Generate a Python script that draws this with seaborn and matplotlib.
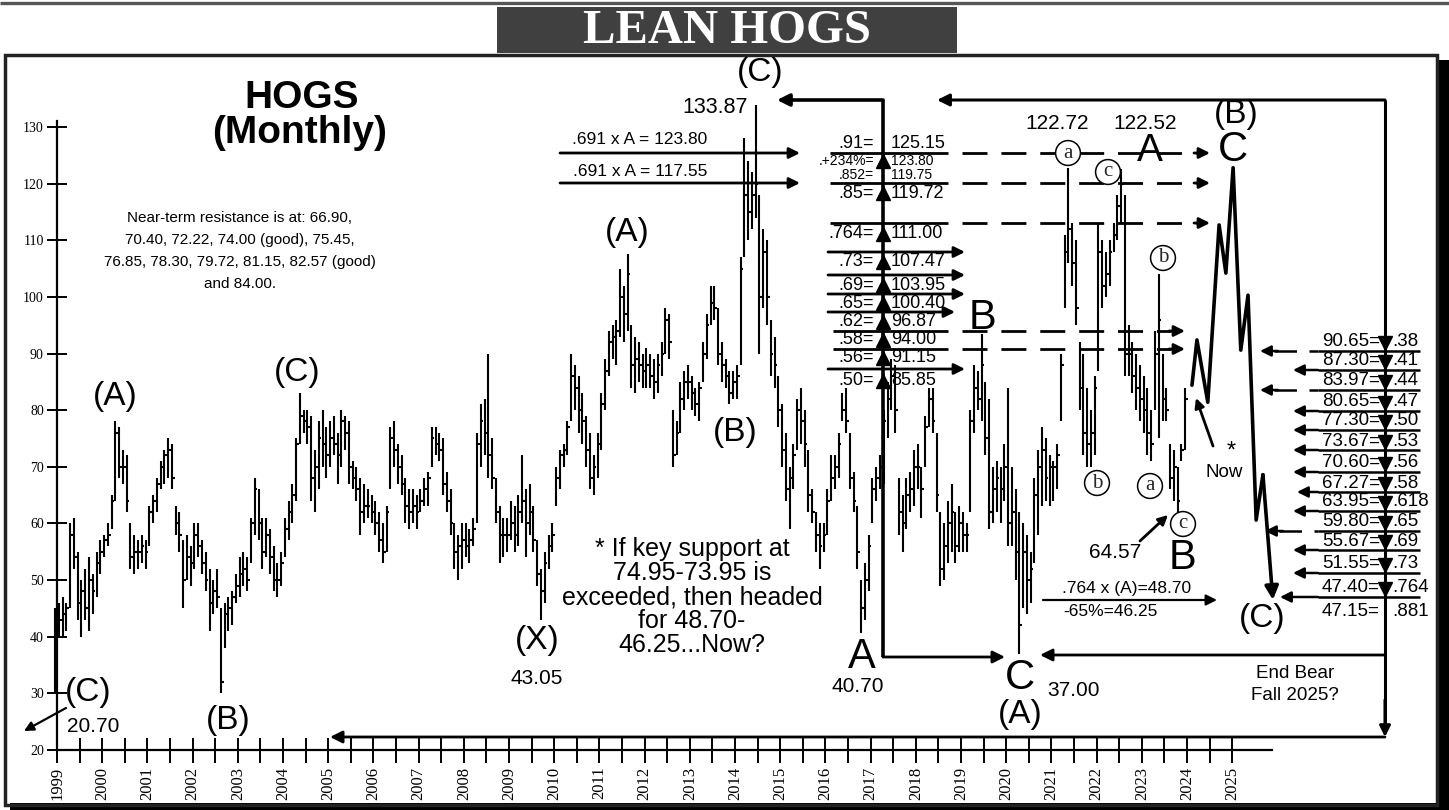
import numpy as np
import pandas as pd
import matplotlib
matplotlib.use("Agg")
import matplotlib.pyplot as plt
import seaborn as sns
from matplotlib.patches import Rectangle

# ---------------- data: monthly bars Dec 1998 .. Dec 2023 ----------------
first_month = "1998-12"
lows = [30,
    40, 40, 41, 45, 52, 43, 40, 43, 41, 44, 47, 51,      # 1999
    54, 56, 59, 64, 68, 67, 62, 52, 51, 52, 53, 52,      # 2000
    56, 60, 62, 66, 67, 68, 66, 58, 55, 45, 50, 49,      # 2001
    52, 54, 51, 48, 41, 44, 45, 30, 38, 41, 42, 46,      # 2002
    47, 49, 48, 53, 58, 57, 52, 54, 51, 48, 47, 49,      # 2003
    54, 57, 60, 64, 74, 76, 74, 64, 62, 66, 70, 68,      # 2004
    70, 72, 67, 70, 73, 67, 66, 64, 58, 60, 61, 60,      # 2005
    58, 55, 53, 55, 66, 70, 67, 65, 60, 59, 60, 59,      # 2006
    62, 63, 63, 70, 72, 71, 65, 62, 58, 52, 50, 52,      # 2007
    54, 53, 56, 60, 70, 72, 68, 66, 60, 53, 54, 55,      # 2008
    57, 55, 56, 60, 54, 58, 55, 49, 43, 46, 52, 55,      # 2009
    63, 66, 70, 72, 78, 80, 76, 74, 70, 66, 65, 68,      # 2010
    73, 80, 86, 89, 88, 93, 92, 94, 84, 83, 85, 84,      # 2011
    84, 84, 82, 83, 86, 90, 89, 70, 72, 76, 80, 82,      # 2012
    80, 79, 78, 85, 89, 95, 96, 88, 85, 84, 81, 82,      # 2013
    82, 88, 107, 110, 112, 114, 90, 98, 95, 86, 84, 77,  # 2014
    70, 64, 59, 66, 73, 74, 70, 62, 60, 55, 52, 55,      # 2015
    58, 64, 66, 68, 78, 76, 66, 62, 52, 40.7, 43, 48,    # 2016
    60, 64, 66, 67, 75, 80, 76, 58, 55, 59, 62, 63,      # 2017
    66, 61, 70, 77, 76, 62, 49, 50, 53, 55, 53, 55,      # 2018
    55, 55, 62, 76, 80, 78, 72, 59, 60, 62, 60, 64,      # 2019
    56, 56, 50, 37, 45, 44, 46, 53, 58, 63, 64, 63,      # 2020
    64, 66, 78, 98, 106, 102, 95, 80, 72, 70, 70, 72,    # 2021
    87, 98, 100, 102, 108, 110, 113, 86, 86, 83, 80, 78, # 2022
    76, 72, 71, 80, 75, 78, 78, 66, 64, 62, 71, 73]      # 2023
highs = [45,
    46, 47, 46, 60, 61, 55, 50, 52, 54, 51, 55, 57,
    58, 60, 65, 78, 77, 73, 72, 60, 58, 57, 58, 57,
    63, 65, 68, 71, 73, 75, 74, 63, 62, 57, 58, 56,
    60, 60, 57, 55, 52, 50, 52, 45, 46, 47, 48, 51,
    54, 55, 54, 61, 68, 66, 61, 61, 59, 56, 53, 55,
    61, 64, 67, 75, 83, 80, 80, 79, 73, 78, 80, 77,
    78, 79, 76, 80, 79, 78, 71, 70, 68, 67, 66, 65,
    64, 62, 60, 63, 77, 78, 74, 72, 68, 66, 66, 65,
    66, 68, 69, 77, 77, 76, 75, 69, 66, 60, 58, 60,
    60, 59, 61, 76, 81, 82, 90, 75, 68, 63, 61, 61,
    64, 63, 65, 72, 66, 67, 63, 57, 52, 55, 58, 60,
    70, 73, 74, 78, 90, 88, 86, 83, 79, 76, 72, 76,
    83, 89, 94, 95, 96, 105, 102, 107.5, 95, 93, 92, 90,
    91, 90, 89, 90, 92, 98, 97, 80, 78, 85, 87, 88,
    86, 84, 85, 92, 97, 102, 102, 98, 92, 89, 87, 87,
    88, 107, 128, 124, 122, 133.87, 118, 112, 110, 96, 93, 86,
    81, 76, 70, 74, 82, 84, 80, 73, 66, 62, 60, 60,
    66, 72, 72, 76, 83, 84, 76, 69, 63, 50, 53, 58,
    68, 70, 72, 80, 85, 89, 88, 68, 65, 68, 69, 73,
    74, 70, 79, 84, 84, 76, 62, 60, 64, 67, 62, 63,
    62, 60, 80, 88, 87, 93.5, 85, 82, 70, 71, 70, 74,
    84, 70, 66, 62, 60, 58, 55, 68, 73, 77, 75, 72,
    71, 74, 90, 111, 122.72, 113, 110, 92, 90, 84, 80, 86,
    113, 110, 108, 110, 113, 118, 122.52, 118, 95, 92, 90, 88,
    86, 84, 80, 94, 104, 90, 84, 74, 73, 70, 74, 84]
closes = [42,
    43, 44, 45, 58, 54, 46, 48, 45, 50, 48, 53, 55,
    57, 58, 64, 76, 70, 70, 64, 54, 55, 55, 56, 55,
    62, 64, 67, 70, 72, 73, 68, 60, 58, 50, 54, 53,
    58, 56, 53, 50, 46, 48, 47, 32, 44, 45, 47, 49,
    51, 52, 50, 60, 66, 60, 55, 58, 54, 50, 50, 53,
    59, 62, 65, 74, 79, 78, 77, 68, 70, 75, 74, 72,
    75, 74, 72, 78, 76, 70, 68, 66, 62, 63, 63, 62,
    60, 57, 55, 62, 75, 73, 70, 67, 63, 62, 63, 62,
    64, 66, 68, 75, 74, 73, 67, 64, 60, 55, 56, 57,
    56, 57, 59, 74, 78, 76, 72, 68, 62, 58, 58, 58,
    60, 58, 62, 64, 60, 62, 57, 51, 48, 53, 56, 58,
    68, 72, 73, 77, 86, 84, 80, 78, 73, 68, 70, 74,
    81, 87, 92, 93, 94, 100, 97, 104, 88, 89, 88, 87,
    88, 86, 85, 88, 90, 96, 92, 72, 76, 82, 85, 85,
    83, 81, 84, 90, 95, 99, 98, 90, 88, 86, 83, 85,
    86, 105, 118, 115, 118, 120, 100, 108, 100, 90, 88, 80,
    73, 66, 68, 72, 80, 78, 74, 65, 62, 58, 56, 58,
    64, 68, 70, 74, 80, 78, 68, 64, 55, 45, 50, 56,
    66, 68, 70, 78, 82, 86, 80, 62, 60, 65, 66, 70,
    70, 66, 77, 82, 78, 65, 52, 56, 60, 62, 56, 60,
    58, 58, 78, 84, 82, 88, 75, 62, 66, 68, 66, 70,
    60, 62, 55, 42, 55, 50, 52, 65, 70, 73, 68, 70,
    70, 72, 88, 108, 112, 106, 98, 84, 76, 74, 76, 84,
    108, 102, 104, 108, 111, 116, 120, 90, 90, 86, 84, 82,
    80, 76, 74, 90, 96, 82, 80, 68, 70, 64, 73, 82]

# projected path (B)-C-(C)
proj_year = [2024.11, 2024.22, 2024.46, 2024.71, 2024.86, 2025.02,
             2025.19, 2025.35, 2025.53, 2025.68, 2025.90]
proj_price = [84.4, 92.4, 81.4, 112.7, 104.2, 122.8, 90.6, 100.3, 60.6, 68.6, 46.5]

# Fibonacci ladders
fib_ratio = [".91=", ".+234%=", ".852=", ".85=", ".764=", ".73=", ".69=", ".65=",
             ".62=", ".58=", ".56=", ".50="]
fib_value = ["125.15", "123.80", "119.75", "119.72", "111.00", "107.47", "103.95",
             "100.40", "96.87", "94.00", "91.15", "85.85"]
ret_value = ["90.65", "87.30", "83.97", "80.65", "77.30", "73.67", "70.60",
             "67.27", "63.95", "59.80", "55.67", "51.55", "47.40", "47.15"]
ret_ratio = [".38", ".41", ".44", ".47", ".50", ".53", ".56", ".58", ".618",
             ".65", ".69", ".73", ".764", ".881"]
resist_lines = ["Near-term resistance is at: 66.90,",
                "70.40, 72.22, 74.00 (good), 75.45,",
                "76.85, 78.30, 79.72, 81.15, 82.57 (good)",
                "and 84.00."]
note_lines = ["* If key support at", "74.95-73.95 is", "exceeded, then headed",
              "for 48.70-", "46.25...Now?"]
years = list(range(1999, 2026))
price_ticks = list(range(20, 131, 10))

# ---------------- figure ----------------
sns.set_theme(style="ticks")
plt.rcParams["font.family"] = ["Liberation Sans", "DejaVu Sans"]

W, H = 1449, 810
fig = plt.figure(figsize=(W / 100, H / 100), dpi=100)
ax = fig.add_axes([0, 0, 1, 1])
ax.set_facecolor("white")


def X(px):
    return 1999 + (px - 57) / 45.2


def Y(py):
    return 20 + (750 - py) / 5.664


ax.set_xlim(X(0), X(W))
ax.set_ylim(Y(H), Y(0))

# bars
per = pd.period_range(first_month, periods=len(lows), freq="M")
t = np.array([p.year + (p.month - 0.5) / 12 for p in per])
ax.vlines(t, lows, highs, colors="black", lw=1.5)
ax.hlines(closes, t, t + 0.06, colors="black", lw=1.5)

# projection
sns.lineplot(x=proj_year[:-1], y=proj_price[:-1], sort=False, color="black",
             lw=2.6, ax=ax)
ax.annotate("", xy=(proj_year[-1], proj_price[-1]), xytext=(proj_year[-2], proj_price[-2]),
            arrowprops=dict(arrowstyle="-|>", color="black", lw=2.6, shrinkA=0,
                            shrinkB=0, mutation_scale=20))

# axes spines / ticks
for s in ["top", "right"]:
    ax.spines[s].set_visible(False)
ax.spines["left"].set_position(("data", 1999))
ax.spines["left"].set_bounds(20, 131)
ax.spines["bottom"].set_position(("data", 20))
ax.spines["bottom"].set_bounds(1999, X(1272))
for s in ["left", "bottom"]:
    ax.spines[s].set_linewidth(1.6)
    ax.spines[s].set_color("black")
ax.set_yticks(price_ticks)
ax.set_yticklabels([str(v) for v in price_ticks])
ax.set_xticks(years)
ax.set_xticklabels([str(y) for y in years], rotation=90)
ax.set_xticks(np.arange(1999.5, 2025, 1), minor=True)
ax.tick_params(axis="y", left=True, direction="inout", length=15, width=1.4,
               labelsize=10, pad=2, colors="black")
ax.tick_params(axis="x", which="both", bottom=True, direction="inout", length=18,
               width=1.4, labelsize=12, pad=3, colors="black")
for lab in ax.get_xticklabels() + ax.get_yticklabels():
    lab.set_fontfamily("Liberation Serif")
ax.grid(False)

# ---------------- helpers for annotations ----------------


def T(px, py, s, size, ha="center", weight="normal", family=None, **kw):
    kw2 = dict(fontsize=size, ha=ha, va="center", fontweight=weight, color="black")
    if family:
        kw2["family"] = family
    kw2.update(kw)
    ax.text(X(px), Y(py), s, **kw2)


def L(xs, ys, lw=2.0, ls="-", color="black"):
    ax.plot([X(v) for v in xs], [Y(v) for v in ys], color=color, lw=lw, ls=ls,
            solid_capstyle="butt", dash_capstyle="butt", clip_on=False)


def A(p0, p1, lw=2.0, head=16):
    ax.annotate("", xy=(X(p1[0]), Y(p1[1])), xytext=(X(p0[0]), Y(p0[1])),
                arrowprops=dict(arrowstyle="-|>", color="black", lw=lw, shrinkA=0,
                                shrinkB=0, mutation_scale=head), annotation_clip=False)


def DA(x0, x1, y, lw=2.0):
    """dashed line ending with an arrow head (direction x0 -> x1)"""
    sgn = 1 if x1 > x0 else -1
    L([x0, x1 - sgn * 14], [y, y], lw=lw, ls=(0, (9, 5)))
    A((x1 - sgn * 16, y), (x1, y), lw=lw)


def CIRC(px, py, s):
    ax.text(X(px), Y(py), s, fontsize=15, ha="center", va="center",
            family="Liberation Serif",
            bbox=dict(boxstyle="circle,pad=0.14", fc="white", ec="black", lw=1.1))


# ---------------- frame and title ----------------
def R(x0, y0, x1, y1, **kw):
    ax.add_patch(Rectangle((X(x0), Y(y1)), X(x1) - X(x0), Y(y0) - Y(y1),
                           clip_on=False, **kw))


L([0, W], [3, 3], lw=2.4, color="#555555")
R(1437, 60, 1449, 810, fc="black", ec="none")
R(10, 803, 1449, 810, fc="black", ec="none")
R(5, 55, 1437, 805, fc="none", ec="#222222", lw=2.5)
R(497, 7, 957, 53, fc="#404040", ec="none")
T(727, 31, "LEAN HOGS", 35, weight="bold", family="Liberation Serif", color="white")

# ---------------- text blocks ----------------
T(302, 98, "HOGS", 28, weight="bold")
T(300, 133, "(Monthly)", 28, weight="bold")
for i, s in enumerate(resist_lines):
    T(240, 218 + 22 * i, s, 11)
for i, s in enumerate(note_lines):
    T(692, 549 + 24 * i, s, 18)

# wave labels
T(115, 397, "(A)", 24); T(228, 720, "(B)", 24); T(297, 372, "(C)", 24)
T(88, 693, "(C)", 24); T(93, 727, "20.70", 15)
A((66, 708), (24, 731), lw=1.6, head=14)
T(537, 640, "(X)", 24); T(537, 678, "43.05", 15)
T(627, 232, "(A)", 24); T(735, 432, "(B)", 24); T(760, 73, "(C)", 24)
T(715, 107, "133.87", 15.5)
T(862, 657, "A", 30); T(858, 687, "40.70", 15)
T(1020, 678, "C", 30); T(1073, 690, "37.00", 15); T(1020, 715, "(A)", 24)
T(982, 318, "B", 30)
T(1057, 123, "122.72", 15); T(1145, 123, "122.52", 15); T(1150, 151, "A", 28)
T(1236, 115, "(B)", 24); T(1233, 150, "C", 30)
T(1182, 558, "B", 30); T(1115, 553, "64.57", 15)
A((1140, 541), (1168, 515), lw=2.0, head=14)
T(1262, 618, "(C)", 24)
T(1295, 673, "End Bear", 13.5); T(1295, 695, "Fall 2025?", 13.5)
T(1231, 452, "*", 17); T(1224, 472, "Now", 13.5)
A((1213, 446), (1196, 398), lw=2.0, head=14)
CIRC(1068, 153, "a"); CIRC(1108, 172, "c"); CIRC(1163, 258, "b")
CIRC(1097, 483, "b"); CIRC(1150, 486, "a"); CIRC(1183, 524, "c")

# .691 x A arrows
T(640, 140, ".691 x A = 123.80", 12.5)
A((560, 153), (800, 153), lw=2.0)
T(640, 172, ".691 x A = 117.55", 12.5)
A((560, 183), (800, 183), lw=2.0)

# .764 x (A)
T(1127, 589, ".764 x (A)=48.70", 12.5)
T(1110, 612, "-65%=46.25", 12.5)
A((1043, 600), (1217, 600), lw=1.6)

# ---------------- left Fibonacci ladder (from A) ----------------
L([883, 883], [657, 100], lw=2.6)
A((883, 100), (777, 100), lw=2.6, head=18)
A((883, 657), (1005, 657), lw=2.0, head=18)
fib_row_y = [143, 161, 175, 193, 234, 262, 285, 303, 322, 340, 358, 381]
fib_tri = [False, True, False, True, True, True, True, True, True, True, True, True]
fib_small = [False, True, True, False, False, False, False, False, False, False, False, False]
for r, v, yy, tri, sm in zip(fib_ratio, fib_value, fib_row_y, fib_tri, fib_small):
    size = 10 if sm else 13
    T(874, yy, r, size, ha="right")
    T(891, yy, v, size, ha="left")
    if tri:
        ax.plot(X(883), Y(yy), marker="^", ms=10, color="black", mec="black")
# lines of the ladder
for yy in [153, 183, 223]:
    L([830, 948], [yy, yy], lw=2.0)
    DA(962, 1210, yy)
for yy in [331, 349]:
    L([833, 948], [yy, yy], lw=2.0)
    DA(962, 1185, yy)
for yy, xe in [(252, 965), (275, 965), (294, 965), (312, 955), (369, 965)]:
    A((828, yy), (xe, yy), lw=2.0)

# ---------------- right retracement ladder ----------------
L([1385, 1385], [100, 725], lw=2.2)
A((1385, 700), (1385, 737), lw=2.2, head=16)
A((1385, 100), (937, 100), lw=2.2, head=18)
A((1385, 655), (1040, 655), lw=2.0, head=18)
A((1385, 737), (330, 737), lw=2.0, head=18)
ret_row_y = [342, 361, 381, 402, 421, 441, 463, 483, 502, 522, 541, 564, 588, 612]
ret_tip = [1260, 1293, 1260, 1293, 1293, 1293, 1293, 1297, 1293, 1265, 1293, 1293, 1280, None]
ret_dash = [True, False, True, False, False, False, False, False, False, True, False, False,
            False, False]
for v, r, yy, tip, dsh in zip(ret_value, ret_ratio, ret_row_y, ret_tip, ret_dash):
    T(1380, yy, v + "=", 13.5, ha="right")
    T(1392, yy, r, 13.5, ha="left")
    if tip is None:
        continue
    ax.plot(X(1385), Y(yy + 1), marker="v", ms=10, color="black")
    ly = yy + 9
    L([1318, 1420], [ly, ly], lw=1.8)
    if dsh:
        L([tip + 14, 1318], [ly, ly], lw=1.8, ls=(0, (9, 5)))
        A((tip + 18, ly), (tip, ly), lw=1.8)
    else:
        A((1318, ly), (tip, ly), lw=1.8)

fig.savefig("out.png", dpi=100)
